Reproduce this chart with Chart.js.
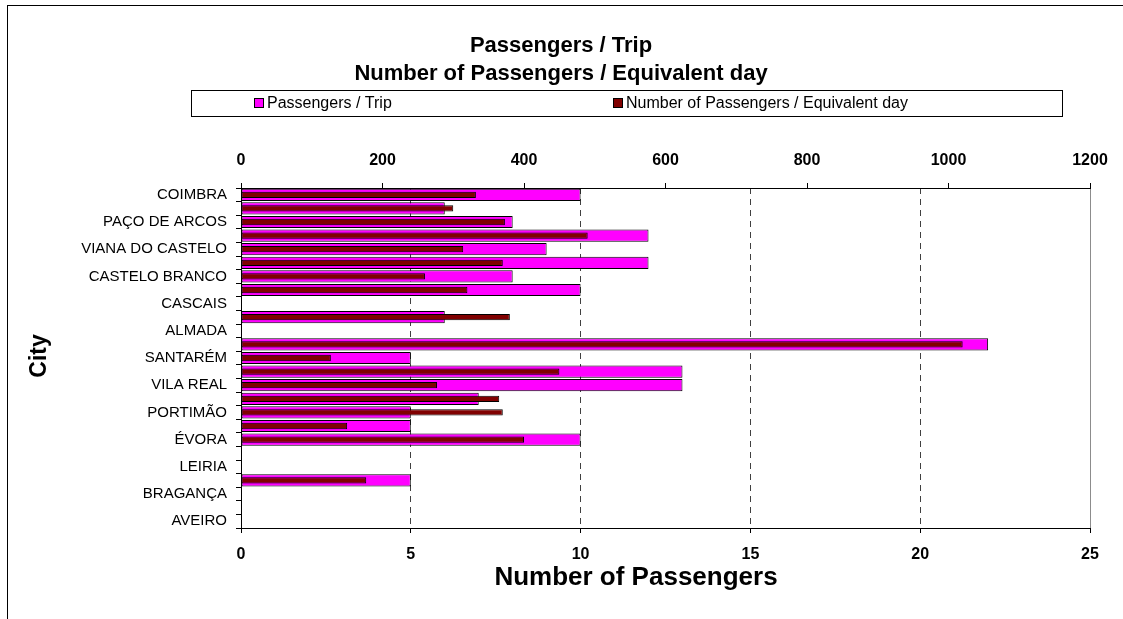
<!DOCTYPE html>
<html>
<head>
<meta charset="utf-8">
<script src="https://cdn.jsdelivr.net/npm/chart.js@4.4.1/dist/chart.umd.min.js"></script>
<style>
  html, body { margin: 0; padding: 0; background: #fff; overflow: hidden; }
  #frame { position: absolute; left: 7px; top: 5px; width: 1200px; height: 700px; border-left: 1px solid #000; border-top: 1px solid #000; }
  #wrap { position: absolute; left: 0; top: 0; width: 1123px; height: 619px; }
</style>
</head>
<body>
<div id="frame"></div>
<div id="wrap"><canvas id="chart"></canvas></div>
<script>
// every other city row is left unlabelled on the axis
const cities = ['COIMBRA', '', 'PAÇO DE ARCOS', '', 'VIANA DO CASTELO', '', 'CASTELO BRANCO', '',
  'CASCAIS', '', 'ALMADA', '', 'SANTARÉM', '', 'VILA REAL', '', 'PORTIMÃO', '', 'ÉVORA', '',
  'LEIRIA', '', 'BRAGANÇA', '', 'AVEIRO'];

const passengersPerTrip = [10, 6, 8, 12, 9, 12, 8, 10, null, 6, null, 22, 5, 13, 13, 7, 5, 5, 10,
  null, null, 5, null, null, null];

const passengersPerDay = [332, 300, 373, 490, 314, 370, 260, 320, null, 380, null, 1020, 127, 450,
  277, 365, 370, 150, 400, null, null, 177, null, null, null];

const tripAxisMax = 25;
const tripAxisStep = 5;
const dayAxisMax = 1200;
const dayAxisStep = 200;

const chartTitle = ['Passengers / Trip', 'Number of Passengers / Equivalent day'];
const xAxisTitle = 'Number of Passengers';
const yAxisTitle = 'City';

const FONT = "'Liberation Sans', Arial, sans-serif";
Chart.defaults.font.family = FONT;
Chart.defaults.color = '#000';

function label(ctx, text, x, y, font, align) {
  ctx.save();
  ctx.font = font;
  ctx.fillStyle = '#000';
  ctx.textAlign = align;
  ctx.textBaseline = 'middle';
  ctx.fillText(text, x, y);
  ctx.restore();
}

// title, framed legend and axis titles sit where the sheet placed them,
// not where the default layout would put them
const chartText = {
  id: 'chartText',
  afterDraw(chart) {
    const ctx = chart.ctx;
    const sets = chart.data.datasets;

    label(ctx, chartTitle[0], 561, 45.5, 'bold 22px ' + FONT, 'center');
    label(ctx, chartTitle[1], 561, 74, 'bold 22px ' + FONT, 'center');

    ctx.save();
    ctx.lineWidth = 1;
    ctx.strokeStyle = '#000';
    ctx.strokeRect(191.5, 90.5, 871, 26);
    const starts = [254, 613];
    sets.forEach((ds, i) => {
      const x = starts[i];
      ctx.fillStyle = ds.backgroundColor;
      ctx.fillRect(x + 0.5, 98.5, 9, 9);
      ctx.strokeRect(x + 0.5, 98.5, 9, 9);
      label(ctx, ds.label, x + 13, 104, '16px ' + FONT, 'left');
    });
    ctx.restore();

    label(ctx, xAxisTitle, 636, 578, 'bold 26px ' + FONT, 'center');

    ctx.save();
    ctx.font = 'bold 23px ' + FONT;
    ctx.fillStyle = '#000';
    ctx.textAlign = 'center';
    ctx.textBaseline = 'middle';
    ctx.translate(40, 356);
    ctx.rotate(-Math.PI / 2);
    ctx.fillText(yAxisTitle, 0, 0);
    ctx.restore();
  }
};

new Chart(document.getElementById('chart'), {
  type: 'bar',
  data: {
    labels: cities,
    datasets: [
      {
        label: 'Passengers / Trip',
        data: passengersPerTrip,
        backgroundColor: '#FF00FF',
        borderColor: '#000',
        borderWidth: 1,
        borderSkipped: false,
        xAxisID: 'x',
        grouped: false,
        categoryPercentage: 1,
        barPercentage: 0.9,
        order: 1
      },
      {
        label: 'Number of Passengers / Equivalent day',
        data: passengersPerDay,
        backgroundColor: '#800000',
        borderColor: '#000',
        borderWidth: 1,
        borderSkipped: false,
        xAxisID: 'x2',
        grouped: false,
        categoryPercentage: 1,
        barPercentage: 0.46,
        order: 0
      }
    ]
  },
  options: {
    indexAxis: 'y',
    responsive: true,
    maintainAspectRatio: false,
    animation: false,
    layout: { padding: { top: 88, left: 0, right: 33, bottom: 51 } },
    plugins: {
      legend: { display: false },
      tooltip: { enabled: false },
      title: { display: false }
    },
    scales: {
      y: {
        type: 'category',
        position: 'left',
        afterFit: (scale) => { scale.width = 241; },
        grid: { offset: true, drawOnChartArea: false, color: '#000', tickLength: 5 },
        border: { color: '#000', width: 1 },
        ticks: { autoSkip: false, padding: 9, font: { size: 15 } }
      },
      x: {
        position: 'bottom',
        min: 0,
        max: tripAxisMax,
        afterFit: (scale) => { scale.height = 40; },
        ticks: {
          stepSize: tripAxisStep,
          padding: 12,
          font: { size: 16, weight: 'bold' },
          callback: (v) => v
        },
        grid: {
          color: (c) => c.tick && c.tick.value === tripAxisMax ? '#8c8c8c' : '#404040',
          tickColor: '#000',
          tickLength: 5
        },
        border: {
          color: '#000',
          width: 1,
          dash: (c) => c.tick && c.tick.value === tripAxisMax ? [] : [6, 5]
        }
      },
      x2: {
        position: 'top',
        min: 0,
        max: dayAxisMax,
        afterFit: (scale) => { scale.height = 100; },
        ticks: {
          stepSize: dayAxisStep,
          padding: 13,
          font: { size: 16, weight: 'bold' },
          callback: (v) => v
        },
        grid: { drawOnChartArea: false, color: '#000', tickLength: 5 },
        border: { color: '#000', width: 1 }
      }
    }
  },
  plugins: [chartText]
});
</script>
</body>
</html>
